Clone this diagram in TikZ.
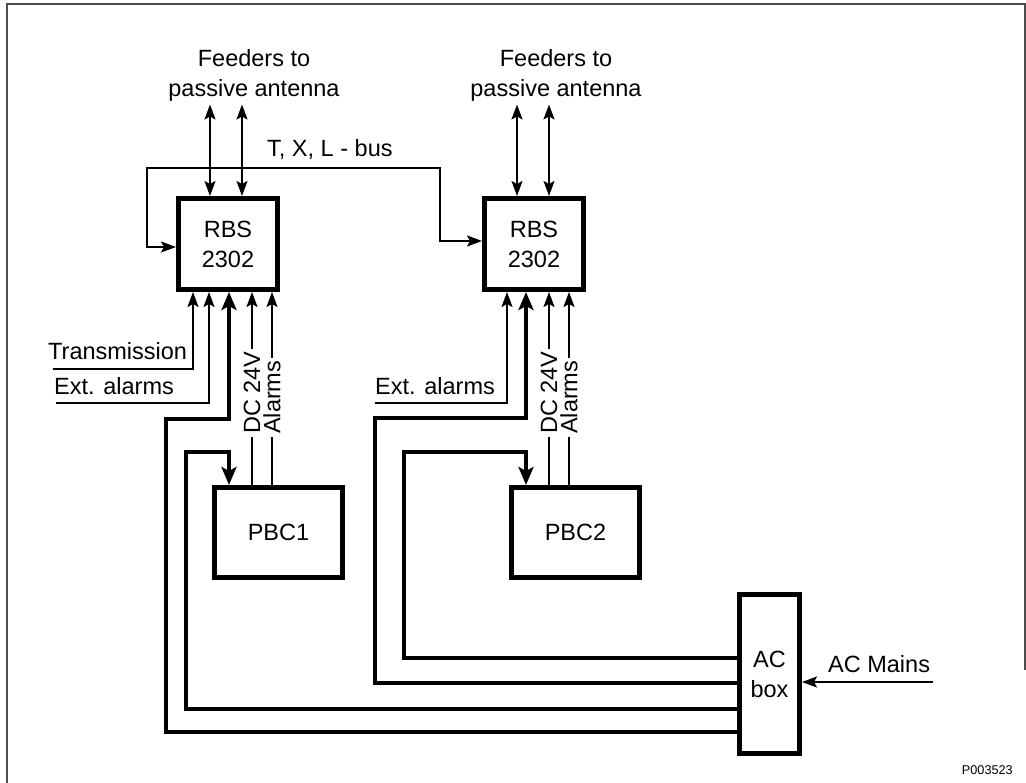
\documentclass[tikz,border=0pt]{standalone}
\usepackage{fontspec}
\setmainfont{Liberation Sans}
\usetikzlibrary{arrows.meta}
\begin{document}
\begin{tikzpicture}[x=1pt,y=-1pt,
  lbl/.style={font=\fontsize{23.5}{29}\selectfont, inner sep=0pt},
  box/.style={draw, line width=5pt, font=\fontsize{23.5}{30}\selectfont, align=center, inner sep=0pt},
  sig/.style={line width=2pt},
  pwr/.style={line width=3.5pt},
  tip/.style={-{Stealth[length=15pt,width=11pt,inset=3pt]}},
  btip/.style={{Stealth[length=15pt,width=11pt,inset=3pt]}-{Stealth[length=15pt,width=11pt,inset=3pt]}},
  ptip/.style={-{Stealth[length=18pt,width=15pt,inset=4pt]}},
  vl/.style={font=\fontsize{23.5}{29}\selectfont, rotate=90, anchor=west, fill=white, inner xsep=3pt, inner ysep=0pt}
]
\useasboundingbox (0,0) rectangle (1026,783);
\draw[line width=2pt, black!70] (7,783) -- (7,4) -- (1025,4) -- (1025,670);

% boxes
\node[box, minimum width=99pt, minimum height=91pt] (rbs1) at (228,244) {RBS\\2302};
\node[box, minimum width=99pt, minimum height=91pt] (rbs2) at (534,244) {RBS\\2302};
\node[box, minimum width=128pt, minimum height=90pt] (pbc1) at (278.5,532.5) {PBC1};
\node[box, minimum width=128pt, minimum height=90pt] (pbc2) at (575.5,532.5) {PBC2};
\node[box, minimum width=60pt, minimum height=159pt] (acbox) at (769.5,674) {AC\\box};

% feeders
\draw[sig,btip] ([xshift=-18pt]rbs1.north) -- ++(0,-91.5);
\draw[sig,btip] ([xshift=14pt]rbs1.north) -- ++(0,-91.5);
\draw[sig,btip] ([xshift=-17pt]rbs2.north) -- ++(0,-91.5);
\draw[sig,btip] ([xshift=15pt]rbs2.north) -- ++(0,-91.5);
\node[lbl, anchor=base] (f1a) at (254,67) {Feeders to};
\node[lbl, anchor=base] (f1b) at (254,97) {passive antenna};
\node[lbl, anchor=base] (f2a) at (556,67) {Feeders to};
\node[lbl, anchor=base] (f2b) at (556,97) {passive antenna};

% bus
\draw[sig,btip] ([yshift=-3pt]rbs1.west) -| (147,168) -| (440,241) -- ([yshift=3pt]rbs2.west);
\node[lbl, anchor=base west] (bus) at (267,157) {T, X, L - bus};

% RBS1 inputs
\coordinate (tr) at (53,369);
\coordinate (ea1) at (56,403);
\draw[sig,tip] (tr) -| ([xshift=-35pt]rbs1.south);
\draw[sig,tip] (ea1) -| ([xshift=-19pt]rbs1.south);
\node[lbl, anchor=base west] (trl) at (48,360) {Transmission};
\node[lbl, anchor=base west] (ea1l) at (54,395) {Ext. alarms};
\draw[pwr,ptip] ([yshift=-58pt]acbox.west) -- (166,732) -- (166,419) -| ([xshift=1pt]rbs1.south);
\draw[pwr,ptip] ([yshift=-35pt]acbox.west) -- (186,709) -- (186,452) -| ([xshift=-49.5pt]pbc1.north);
\draw[sig,tip] ([xshift=-26.5pt]pbc1.north) -- ([xshift=24pt]rbs1.south);
\draw[sig,tip] ([xshift=-6.5pt]pbc1.north) -- ([xshift=44pt]rbs1.south);
\node[vl] (dc1) at (252,437) {DC 24V};
\node[vl] (al1) at (272,437) {Alarms};

% RBS2 inputs
\coordinate (ea2) at (375,403);
\draw[sig,tip] (ea2) -| ([xshift=-27pt]rbs2.south);
\node[lbl, anchor=base west] (ea2l) at (375,395) {Ext. alarms};
\draw[pwr,ptip] ([yshift=-9pt]acbox.west) -- (375,683) -- (375,418) -| ([xshift=-8pt]rbs2.south);
\draw[pwr,ptip] ([yshift=16pt]acbox.west) -- (404,658) -- (404,452) -| ([xshift=-49.5pt]pbc2.north);
\draw[sig,tip] ([xshift=-26.5pt]pbc2.north) -- ([xshift=15pt]rbs2.south);
\draw[sig,tip] ([xshift=-6.5pt]pbc2.north) -- ([xshift=35pt]rbs2.south);
\node[vl] (dc2) at (549,437) {DC 24V};
\node[vl] (al2) at (569,437) {Alarms};

% AC mains
\coordinate (acm) at (933,682);
\draw[sig,tip] (acm) -- ([yshift=-8pt]acbox.east);
\node[lbl, anchor=base west] (acml) at (828,672) {AC Mains};

\node[font=\fontsize{12.7}{15}\selectfont, inner sep=0pt, anchor=base east] (pid) at (1013,774) {P003523};
\end{tikzpicture}
\end{document}
